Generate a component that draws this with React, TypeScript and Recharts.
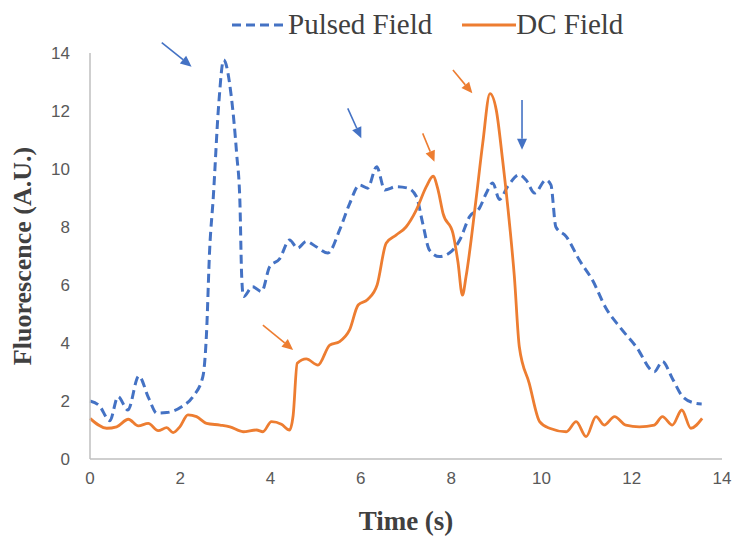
import React from 'react';
import { LineChart, Line, XAxis, YAxis, Legend, ReferenceLine } from 'recharts';

const blue = '#4472C4';
const orange = '#ED7D31';
const axisGray = '#bfbfbf';
const tickGray = '#595959';
const titleGray = '#404040';

const xTicks = [0, 2, 4, 6, 8, 10, 12, 14];
const yTicks = [0, 2, 4, 6, 8, 10, 12, 14];

const pulsedTime = [
	0, 0.2, 0.44, 0.62, 0.84, 1.08, 1.3, 1.48, 1.7, 2.03, 2.28, 2.5, 2.58, 2.65, 2.73, 2.85, 2.96,
	3.13, 3.25, 3.32, 3.36, 3.4, 3.6, 3.8, 3.98, 4.2, 4.42, 4.6, 4.79, 5.01, 5.27, 5.53, 5.75, 5.97,
	6.15, 6.35, 6.53, 6.78, 7.04, 7.23, 7.37, 7.52, 7.74, 7.96, 8.19, 8.41, 8.63, 8.78, 8.92, 9.07,
	9.25, 9.51, 9.66, 9.85, 10.1, 10.21, 10.32, 10.55, 10.84, 11.13, 11.43, 11.73, 12.1, 12.5, 12.68,
	12.9, 13.13, 13.42, 13.55
];
const pulsedValue = [
	2.0, 1.85, 1.32, 2.15, 1.69, 2.86, 2.1, 1.58, 1.6, 1.8, 2.15, 2.84, 4.3, 7.2, 9.0, 12.2, 13.76,
	12.5, 10.5, 8.9, 6.3, 5.6, 5.94, 5.77, 6.63, 6.9, 7.55, 7.27, 7.5, 7.32, 7.1, 7.9, 8.8, 9.45,
	9.34, 10.08, 9.28, 9.39, 9.34, 9.05, 8.13, 7.2, 6.98, 7.1, 7.55, 8.36, 8.66, 9.17, 9.52, 8.95,
	9.39, 9.8, 9.62, 9.17, 9.62, 9.45, 8.0, 7.67, 6.86, 6.17, 5.2, 4.56, 3.87, 3.01, 3.36,
	2.78, 2.15, 1.92, 1.9
];

const dcTime = [
	0, 0.37, 0.59, 0.85, 1.07, 1.29, 1.51, 1.7, 1.84, 1.99, 2.17, 2.36, 2.58, 2.88, 3.1, 3.39, 3.69,
	3.83, 4.02, 4.24, 4.42, 4.5, 4.59, 4.79, 5.05, 5.31, 5.53, 5.75, 5.94, 6.15, 6.36, 6.56, 6.78,
	7.0, 7.23, 7.45, 7.6, 7.71, 7.82, 8.04, 8.15, 8.25, 8.33, 8.55, 8.7, 8.86, 9.0, 9.14, 9.3, 9.4,
	9.51, 9.73, 9.96, 10.18, 10.55, 10.77, 10.99, 11.21, 11.39, 11.62, 11.87, 12.17, 12.5, 12.68,
	12.9, 13.11, 13.31, 13.56
];
const dcValue = [
	1.4, 1.06, 1.11, 1.37, 1.14, 1.23, 0.98, 1.08, 0.91, 1.11, 1.52, 1.46, 1.23, 1.17, 1.11, 0.94, 1.0,
	0.94, 1.29, 1.2, 1.0, 1.5, 3.3, 3.45, 3.24, 3.93, 4.05, 4.45, 5.31, 5.5, 6.0, 7.44, 7.72,
	8.0, 8.59, 9.39, 9.75, 9.28, 8.47, 7.78, 6.8, 5.65, 6.29, 8.93, 10.89, 12.6, 12.03, 10.31, 8.0, 6.3,
	3.87, 2.61, 1.29, 1.06, 0.94, 1.29, 0.77, 1.46, 1.17, 1.46, 1.17, 1.11, 1.17, 1.46,
	1.17, 1.69, 1.06, 1.4
];

// annotation arrows, tail -> tip, in data units
const arrowTail = [
	[1.59, 14.36], [5.71, 12.09], [9.57, 12.38], [7.37, 11.23], [8.04, 13.41], [3.83, 4.62]
];
const arrowTip = [
	[2.25, 13.53], [6.01, 11.06], [9.57, 10.66], [7.63, 10.25], [8.47, 12.61], [4.5, 3.76]
];
const arrowColor = [blue, blue, blue, orange, orange, orange];

const pulsedData = pulsedTime.map((t, i) => ({ t, v: pulsedValue[i] }));
const dcData = dcTime.map((t, i) => ({ t, v: dcValue[i] }));

const Arrow = (props: any) => {
	const { x1, y1, x2, y2, color } = props;
	const dx = x2 - x1;
	const dy = y2 - y1;
	const len = Math.sqrt(dx * dx + dy * dy) || 1;
	const ux = dx / len;
	const uy = dy / len;
	const head = 11;
	const half = 5;
	const bx = x2 - ux * head;
	const by = y2 - uy * head;
	const pts = `${x2},${y2} ${bx - uy * half},${by + ux * half} ${bx + uy * half},${by - ux * half}`;
	return (
		<g>
			<line x1={x1} y1={y1} x2={bx} y2={by} stroke={color} strokeWidth={1.6} />
			<polygon points={pts} fill={color} />
		</g>
	);
};

const LegendContent = () => (
	<div style={{ display: 'flex', alignItems: 'center', fontFamily: '"Liberation Serif", serif', fontSize: 29, color: titleGray, paddingLeft: 230 }}>
		<svg width={56} height={10}>
			<line x1={2} y1={5} x2={54} y2={5} stroke={blue} strokeWidth={3} strokeDasharray="9 5" />
		</svg>
		<span style={{ marginLeft: 2, marginRight: 30 }}>Pulsed Field</span>
		<svg width={54} height={10}>
			<line x1={0} y1={5} x2={54} y2={5} stroke={orange} strokeWidth={3} />
		</svg>
		<span>DC Field</span>
	</div>
);

export default function App() {
	return (
		<div style={{ position: 'absolute', left: 0, top: 0, background: '#fff' }}>
			<LineChart width={735} height={537} margin={{ top: 53, right: 13, bottom: 0, left: 0 }}>
				<XAxis
					dataKey="t"
					type="number"
					domain={[0, 14]}
					ticks={xTicks}
					allowDuplicatedCategory={false}
					height={78}
					stroke={axisGray}
					strokeWidth={1.5}
					tickLine={false}
					tickSize={0}
					tickMargin={13}
					tick={{ fill: tickGray, fontSize: 17, fontFamily: '"Liberation Sans Narrow", "Liberation Sans", sans-serif' }}
					label={{ value: 'Time (s)', position: 'insideBottom', offset: 7, fill: titleGray, fontSize: 27, fontWeight: 'bold', fontFamily: '"Liberation Serif", serif' }}
				/>
				<YAxis
					type="number"
					domain={[0, 14]}
					ticks={yTicks}
					width={90}
					stroke={axisGray}
					strokeWidth={1.5}
					tickLine={false}
					tickSize={0}
					tickMargin={20}
					tick={{ fill: tickGray, fontSize: 17, fontFamily: '"Liberation Sans Narrow", "Liberation Sans", sans-serif' }}
					label={{ value: 'Fluorescence (A.U.)', angle: -90, position: 'insideLeft', offset: 22, style: { textAnchor: 'middle' }, fill: titleGray, fontSize: 26, fontWeight: 'bold', fontFamily: '"Liberation Serif", serif' }}
				/>
				<Legend
					layout="horizontal"
					verticalAlign="middle"
					align="center"
					wrapperStyle={{ top: 8, left: 0, width: 735 }}
					content={LegendContent}
				/>
				<Line
					data={pulsedData}
					dataKey="v"
					name="Pulsed Field"
					type="monotone"
					stroke={blue}
					strokeWidth={3}
					strokeDasharray="9 5"
					dot={false}
					isAnimationActive={false}
				/>
				<Line
					data={dcData}
					dataKey="v"
					name="DC Field"
					type="monotone"
					stroke={orange}
					strokeWidth={2.8}
					dot={false}
					isAnimationActive={false}
				/>
				{arrowTail.map((tail, i) => (
					<ReferenceLine
						key={`arrow-${i}`}
						segment={[{ x: tail[0], y: tail[1] }, { x: arrowTip[i][0], y: arrowTip[i][1] }]}
						ifOverflow="visible"
						stroke={arrowColor[i]}
						shape={(p: any) => <Arrow {...p} color={arrowColor[i]} />}
					/>
				))}
			</LineChart>
		</div>
	);
}
